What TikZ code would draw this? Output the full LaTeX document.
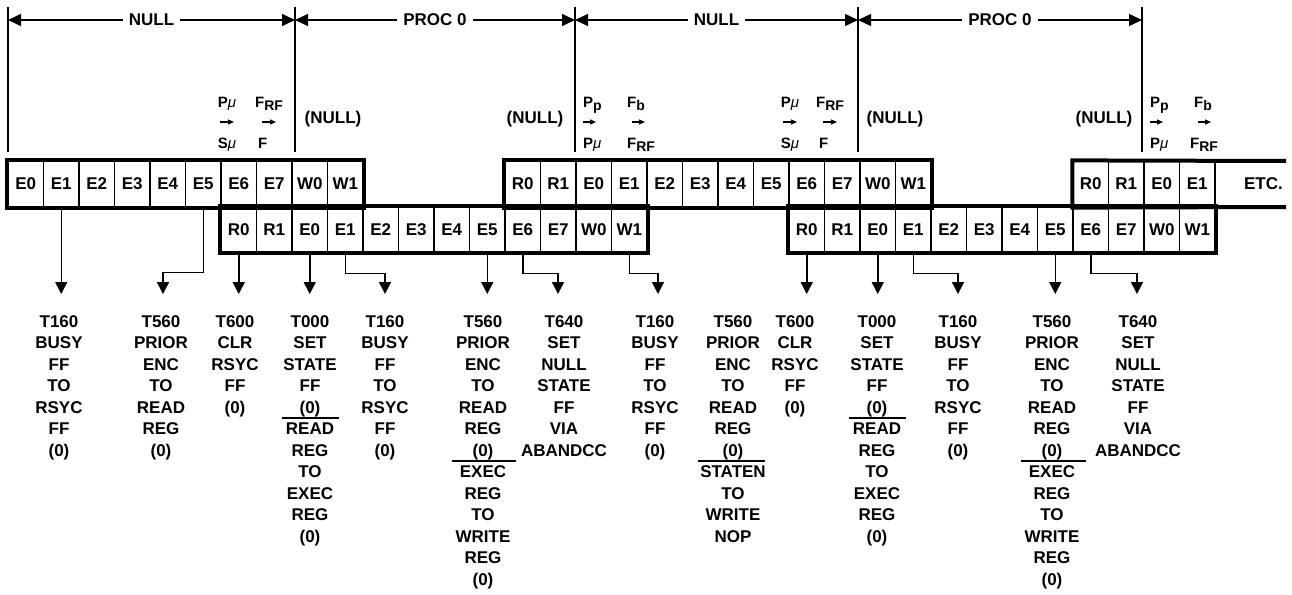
\documentclass[tikz,border=0pt]{standalone}
\usepackage{fontspec}
\setmainfont{Liberation Sans}
\usetikzlibrary{arrows.meta,calc,positioning}
\newcommand{\lowsub}[1]{\raisebox{-3.5pt}{\fontsize{14}{14}\selectfont #1}}
\newcommand{\mym}{{\mdseries\itshape μ}}
\tikzset{
  slot/.style={
    draw,
    line width = 1.2pt,
    minimum width = 35.5pt,
    inner sep = 0pt,
    font = \bfseries\fontsize{17}{20}\selectfont
  },
  hislot/.style={slot, minimum height = 46pt},
  loslot/.style={slot, minimum height = 45pt},
  stripline/.style={line width = 4pt},
  tickline/.style={line width = 1.4pt},
  spanline/.style={
    line width = 1.4pt,
    {Triangle[length=13pt,width=12pt]}-{Triangle[length=13pt,width=12pt]}
  },
  spanlabel/.style={
    fill = white,
    inner xsep = 6pt,
    inner ysep = 2pt,
    font = \bfseries\fontsize{17}{20}\selectfont
  },
  tapline/.style={line width = 1.5pt, -{Triangle[length=12pt,width=12pt]}},
  tinyarrow/.style={line width = 1.2pt, -{Triangle[length=6pt,width=5pt]}},
  txt/.style={inner sep = 0pt, font = \bfseries\fontsize{17}{21.5}\selectfont},
  annot/.style={inner sep = 0pt, font = \bfseries\fontsize{15}{18}\selectfont},
  lbl/.style={txt, align = center, anchor = north},
  sepline/.style={line width = 1.3pt}
}

\begin{document}
\begin{tikzpicture}[x=1pt, y=-1pt]
\useasboundingbox (0,0) rectangle (1292,594);
% state boundaries
\foreach \x [count=\i from 0] in {8,295,575,858,1142} {
  \coordinate (h\i) at (\x,20);
  \draw[tickline] (\x,7) -- (\x,152);
}
\draw[spanline] (h0) -- (h1) node[midway, spanlabel] {NULL};
\draw[spanline] (h1) -- (h2) node[midway, spanlabel] {PROC 0};
\draw[spanline] (h2) -- (h3) node[midway, spanlabel] {NULL};
\draw[spanline] (h3) -- (h4) node[midway, spanlabel] {PROC 0};

% transfers at the boundaries
\node[annot, anchor=base] (pu1) at (227,107) {P\mym};
\node[annot, anchor=base] (su1) at (227,148) {S\mym};
\draw[tinyarrow] (220,122) -- (234,122);
\node[annot, anchor=base west] (fr1) at (255,107) {F\lowsub{RF}};
\node[annot, anchor=base west] (f1) at (258,148) {F};
\draw[tinyarrow] (262,122) -- (276,122);
\node[txt] (n1) at (333,119) {(NULL)};

\node[txt] (n2) at (535,119) {(NULL)};
\node[annot, anchor=base west] (pp2) at (583,107) {P\lowsub{p}};
\node[annot, anchor=base west] (pu2) at (583,148) {P\mym};
\draw[tinyarrow] (583,122) -- (596,122);
\node[annot, anchor=base west] (fb2) at (627,107) {F\lowsub{b}};
\node[annot, anchor=base west] (fr2) at (627,148) {F\lowsub{RF}};
\draw[tinyarrow] (632,122) -- (645,122);

\node[annot, anchor=base] (pu3) at (790,107) {P\mym};
\node[annot, anchor=base] (su3) at (790,148) {S\mym};
\draw[tinyarrow] (783,122) -- (797,122);
\node[annot, anchor=base west] (fr3) at (816,107) {F\lowsub{RF}};
\node[annot, anchor=base west] (f3) at (819,148) {F};
\draw[tinyarrow] (823,122) -- (837,122);
\node[txt] (n3) at (895,119) {(NULL)};

\node[txt] (n4) at (1104,119) {(NULL)};
\node[annot, anchor=base west] (pp4) at (1150,107) {P\lowsub{p}};
\node[annot, anchor=base west] (pu4) at (1150,148) {P\mym};
\draw[tinyarrow] (1150,122) -- (1163,122);
\node[annot, anchor=base west] (fb4) at (1194,107) {F\lowsub{b}};
\node[annot, anchor=base west] (fr4) at (1190,148) {F\lowsub{RF}};
\draw[tinyarrow] (1198,122) -- (1211,122);

% cycle strips
\foreach \t [count=\i from 0] in {E0,E1,E2,E3,E4,E5,E6,E7,W0,W1}
  \node[hislot] (a\i) at ({8+(\i+0.5)*35.5},184) {\t};
\foreach \t [count=\i from 0] in {R0,R1,E0,E1,E2,E3,E4,E5,E6,E7,W0,W1} {
  \node[loslot] (b\i) at ({8+(\i+6.5)*35.5},229.5) {\t};
  \node[hislot] (c\i) at ({8+(\i+14.5)*35.5},184) {\t};
  \node[loslot] (d\i) at ({8+(\i+22.5)*35.5},229.5) {\t};
}
\foreach \t [count=\i from 0] in {R0,R1,E0,E1}
  \node[hislot] (e\i) at ({8+(\i+30.5)*35.5},184) {\t};
\node[txt, anchor=east] (etc) at (1283,184) {ETC.};

\draw[stripline] (a0.north west) rectangle (a9.south east);
\draw[stripline] (b0.north west) rectangle (b11.south east);
\draw[stripline] (c0.north west) rectangle (c11.south east);
\draw[stripline] (d0.north west) rectangle (d11.south east);
\coordinate (etcne) at (1286,161);
\coordinate (etcse) at (1286,207);
\draw[stripline] (etcne) -- (e0.north west) -- (e0.south west) -- (etcse);

% taps
\coordinate (tipy) at (0,294);
\coordinate (t2) at (163,294);
\coordinate (t5) at (385,294);
\coordinate (t7) at (558,294);
\coordinate (t8) at (658,294);
\coordinate (t12) at (958,294);
\coordinate (t14) at (1137,294);
\draw[tapline] (a1.south) -- (a1.south |- tipy);
\draw[tapline] (a5.south) -- ++(0,65) -| (t2);
\draw[tapline] (b0.south) -- (b0.south |- tipy);
\draw[tapline] (b2.south) -- (b2.south |- tipy);
\draw[tapline] (b3.south) -- ++(0,21) -| (t5);
\draw[tapline] (b7.south) -- (b7.south |- tipy);
\draw[tapline] (b8.south) -- ++(0,21) -| (t7);
\draw[tapline] (b11.south) -- ++(0,21) -| (t8);
\draw[tapline] (d0.south) -- (d0.south |- tipy);
\draw[tapline] (d2.south) -- (d2.south |- tipy);
\draw[tapline] (d3.south) -- ++(0,21) -| (t12);
\draw[tapline] (d7.south) -- (d7.south |- tipy);
\draw[tapline] (d8.south) -- ++(0,21) -| (t14);

% timing labels
\node[lbl] (l1) at (59,315) {T160\\BUSY\\FF\\TO\\RSYC\\FF\\(0)};
\node[lbl] (l2) at (161,315) {T560\\PRIOR\\ENC\\TO\\READ\\REG\\(0)};
\node[lbl] (l3) at (235,315) {T600\\CLR\\RSYC\\FF\\(0)};
\node[lbl] (l4) at (310,315) {T000\\SET\\STATE\\FF\\(0)\\READ\\REG\\TO\\EXEC\\REG\\(0)};
\node[lbl] (l5) at (385,315) {T160\\BUSY\\FF\\TO\\RSYC\\FF\\(0)};
\node[lbl] (l6) at (483,315) {T560\\PRIOR\\ENC\\TO\\READ\\REG\\(0)\\EXEC\\REG\\TO\\WRITE\\REG\\(0)};
\node[lbl] (l7) at (564,315) {T640\\SET\\NULL\\STATE\\FF\\VIA\\ABANDCC};
\node[lbl] (l8) at (655,315) {T160\\BUSY\\FF\\TO\\RSYC\\FF\\(0)};
\node[lbl] (l9) at (733,315) {T560\\PRIOR\\ENC\\TO\\READ\\REG\\(0)\\STATEN\\TO\\WRITE\\NOP};
\node[lbl] (l10) at (795,315) {T600\\CLR\\RSYC\\FF\\(0)};
\node[lbl] (l11) at (877,315) {T000\\SET\\STATE\\FF\\(0)\\READ\\REG\\TO\\EXEC\\REG\\(0)};
\node[lbl] (l12) at (958,315) {T160\\BUSY\\FF\\TO\\RSYC\\FF\\(0)};
\node[lbl] (l13) at (1052,315) {T560\\PRIOR\\ENC\\TO\\READ\\REG\\(0)\\EXEC\\REG\\TO\\WRITE\\REG\\(0)};
\node[lbl] (l14) at (1138,315) {T640\\SET\\NULL\\STATE\\FF\\VIA\\ABANDCC};

\draw[sepline] ([yshift=-103pt]l4.north) ++(-28,0) -- ++(57,0);
\draw[sepline] ([yshift=-146pt]l6.north) ++(-31,0) -- ++(64,0);
\draw[sepline] ([yshift=-146pt]l9.north) ++(-35,0) -- ++(67,0);
\draw[sepline] ([yshift=-103pt]l11.north) ++(-28,0) -- ++(57,0);
\draw[sepline] ([yshift=-146pt]l13.north) ++(-31,0) -- ++(65,0);
\end{tikzpicture}
\end{document}
